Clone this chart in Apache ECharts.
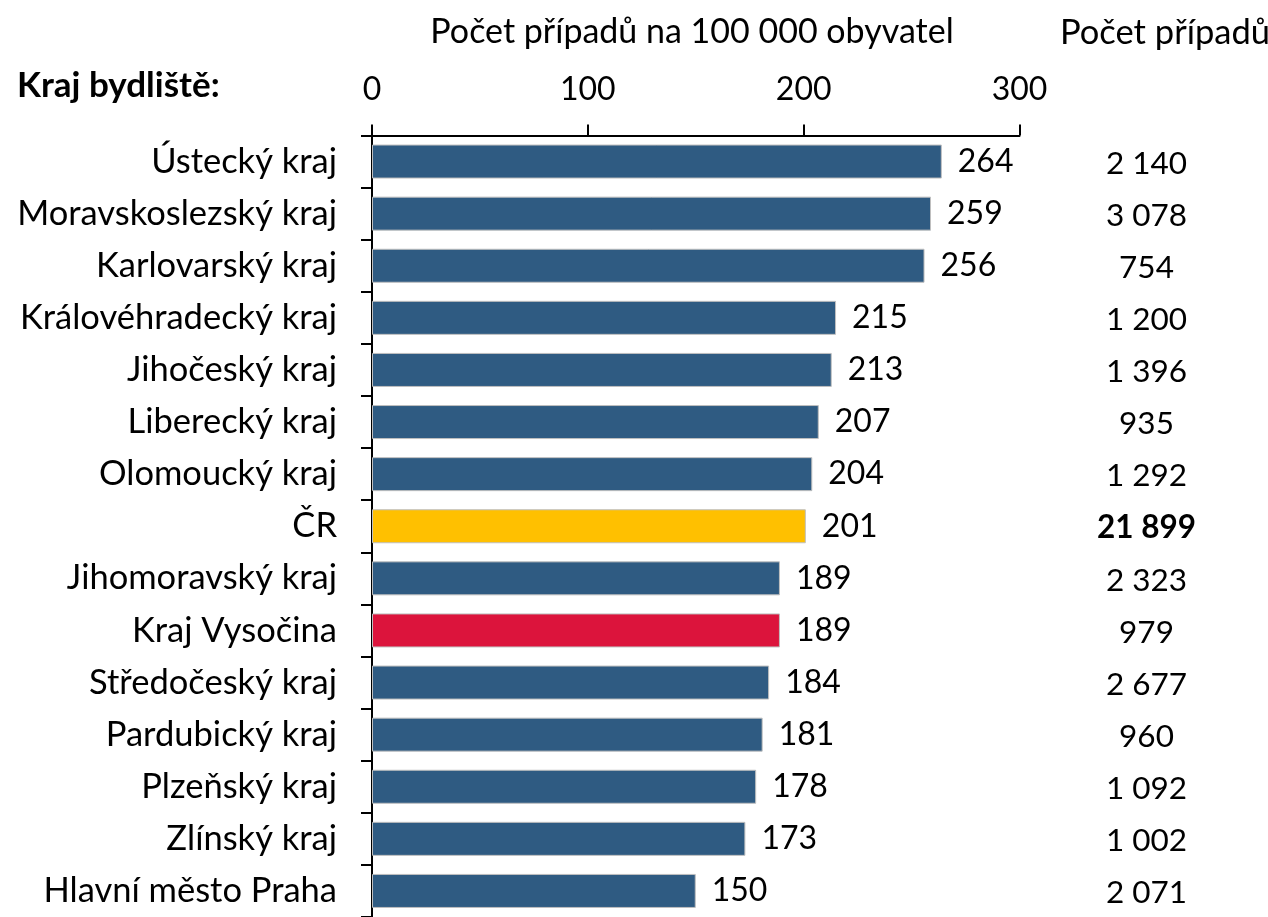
<!DOCTYPE html>
<html>
<head>
<meta charset="utf-8">
<script src="https://cdn.jsdelivr.net/npm/echarts@6/dist/echarts.min.js"></script>
<style>
  html, body { margin: 0; padding: 0; background: #fff; }
  #chart { width: 1268px; height: 917px; }
</style>
</head>
<body>
<div id="chart"></div>
<script>
// Regions (kraje) ordered from the highest rate downwards
const regions = [
  'Ústecký kraj', 'Moravskoslezský kraj', 'Karlovarský kraj', 'Královéhradecký kraj',
  'Jihočeský kraj', 'Liberecký kraj', 'Olomoucký kraj', 'ČR', 'Jihomoravský kraj',
  'Kraj Vysočina', 'Středočeský kraj', 'Pardubický kraj', 'Plzeňský kraj',
  'Zlínský kraj', 'Hlavní město Praha'
];
// Cases per 100 000 inhabitants
const ratePer100k = [264, 259, 256, 215, 213, 207, 204, 201, 189, 189, 184, 181, 178, 173, 150];
// Absolute number of cases
const caseCounts = ['2 140', '3 078', '754', '1 200', '1 396', '935', '1 292', '21 899',
  '2 323', '979', '2 677', '960', '1 092', '1 002', '2 071'];
// Value axis ticks
const xTicks = [0, 100, 200, 300];

const FONT = 'Lato, "Noto Sans", sans-serif';
const BLUE = '#2F5B82', YELLOW = '#FFC000', RED = '#DC143C';

function barColor(name) {
  if (name === 'ČR') return YELLOW;
  if (name === 'Kraj Vysočina') return RED;
  return BLUE;
}

const chart = echarts.init(document.getElementById('chart'));
chart.setOption({
  backgroundColor: '#fff',
  animation: false,
  textStyle: { fontFamily: FONT },
  title: [
    { text: 'Počet případů na 100 000 obyvatel', left: 687, top: 10, textAlign: 'center',
      textStyle: { fontFamily: FONT, fontWeight: 'normal', fontSize: 34, color: '#000' } },
    { text: 'Počet případů', left: 1160, top: 10, textAlign: 'center',
      textStyle: { fontFamily: FONT, fontWeight: 'normal', fontSize: 34.5, color: '#000' } },
    { text: 'Kraj bydliště:', left: 12, top: 63,
      textStyle: { fontFamily: FONT, fontWeight: 'bold', fontSize: 35, color: '#000' } }
  ],
  grid: { left: 372, top: 135.5, width: 647.5, height: 784.5, containLabel: false },
  xAxis: {
    type: 'value', position: 'top', min: xTicks[0], max: xTicks[xTicks.length - 1], interval: 100,
    splitLine: { show: false },
    axisLine: { show: true, lineStyle: { color: '#000', width: 2 } },
    axisTick: { show: true, length: 11, lineStyle: { color: '#000', width: 2 } },
    axisLabel: { fontFamily: FONT, fontSize: 32, color: '#000', margin: 30 }
  },
  yAxis: [
    {
      type: 'category', inverse: true, data: regions,
      axisLine: { show: true, lineStyle: { color: '#000', width: 2 } },
      axisTick: { show: true, length: 11, lineStyle: { color: '#000', width: 2 } },
      axisLabel: { fontFamily: FONT, fontSize: 34.5, color: '#000', margin: 35, padding: [3, 0, 0, 0] }
    },
    {
      type: 'category', inverse: true, position: 'right', data: caseCounts,
      axisLine: { show: false }, axisTick: { show: false },
      axisLabel: {
        fontFamily: FONT, fontSize: 31.5, color: '#000', margin: 127, align: 'center',
        padding: [4, 0, 0, 0],
        formatter: (v, i) => regions[i] === 'ČR' ? '{b|' + v + '}' : v,
        rich: { b: { fontFamily: FONT, fontSize: 31.5, fontWeight: 'bold', color: '#000' } }
      }
    }
  ],
  series: [{
    type: 'bar', yAxisIndex: 0, barWidth: 34,
    data: ratePer100k.map((v, i) => ({
      value: v,
      itemStyle: { color: barColor(regions[i]) }
    })),
    itemStyle: { borderColor: '#BFBFBF', borderWidth: 1 },
    label: { show: true, position: 'right', distance: 16, fontFamily: FONT, fontSize: 32, color: '#000' }
  }]
});
</script>
</body>
</html>
